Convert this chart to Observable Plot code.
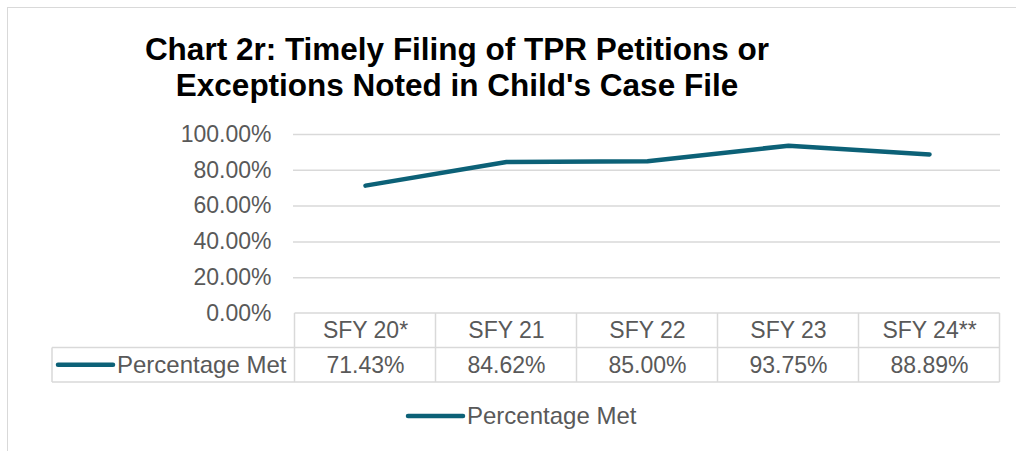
<!DOCTYPE html>
<html>
<head>
<meta charset="utf-8">
<script src="https://cdn.jsdelivr.net/npm/d3@7"></script>
<script src="https://cdn.jsdelivr.net/npm/@observablehq/plot@0.6"></script>
<style>
  html, body { margin: 0; padding: 0; background: #fff; overflow: hidden; }
  #wrap { position: relative; width: 1016px; height: 451px; font-family: "Liberation Sans", Arial, sans-serif; }
  #frame { position: absolute; left: 7px; top: 7px; width: 1100px; height: 600px; border: 1.5px solid #d9d9d9; box-sizing: border-box; }
  #title { position: absolute; left: 0; width: 914px; top: 31px; text-align: center; font-weight: bold; font-size: 31.5px; line-height: 36px; color: #000; }
  #chart { position: absolute; left: 0; top: 0; }
</style>
</head>
<body>
<div id="wrap">
  <div id="frame"></div>
  <div id="chart"></div>
  <div id="title">Chart 2r: Timely Filing of TPR Petitions or<br>Exceptions Noted in Child's Case File</div>
</div>
<script>
const categories = ["SFY 20*", "SFY 21", "SFY 22", "SFY 23", "SFY 24**"];
const values = [71.43, 84.62, 85.00, 93.75, 88.89];
const yTicks = [0, 20, 40, 60, 80, 100];
const seriesName = "Percentage Met";

const lineColor = "#0c6177";
const gridColor = "#d9d9d9";
const textColor = "#595959";
const fmt = d => d.toFixed(2) + "%";

const rows = values.map((v, i) => ({cat: categories[i], v}));

const plot = Plot.plot({
  width: 1016,
  height: 451,
  marginLeft: 293,
  marginRight: 16,
  marginTop: 134,
  marginBottom: 138,
  style: {fontFamily: "'Liberation Sans', Arial, sans-serif", fontSize: "23px", color: textColor, background: "transparent", overflow: "visible"},
  x: {type: "point", domain: categories, padding: 0.5, axis: null},
  y: {domain: [0, 100], axis: null},
  marks: [
    Plot.gridY(yTicks.filter(d => d > 0), {stroke: gridColor, strokeOpacity: 1, strokeWidth: 1.5}),
    Plot.axisY(yTicks, {tickSize: 0, tickPadding: 22, tickFormat: fmt, fontSize: 23, fill: textColor, label: null}),
    Plot.line(rows, {x: "cat", y: "v", stroke: lineColor, strokeWidth: 4.5, strokeLinecap: "round", strokeLinejoin: "round"}),
    Plot.text(categories, {x: d => d, frameAnchor: "bottom", dy: 17, fill: textColor, fontSize: 23, lineAnchor: "middle", textAnchor: "middle"}),
    Plot.text(rows, {x: "cat", frameAnchor: "bottom", dy: 52, text: d => fmt(d.v), fill: textColor, fontSize: 23, lineAnchor: "middle", textAnchor: "middle"})
  ]
});

document.getElementById("chart").appendChild(plot);

// data table borders and legends, positioned from the plot's scales
const xs = plot.scale("x");
const ys = plot.scale("y");
const step = xs.apply(categories[1]) - xs.apply(categories[0]);
const x0 = xs.apply(categories[0]) - step / 2;
const xEnd = xs.apply(categories[categories.length - 1]) + step / 2;
const yTop = ys.apply(0);
const rowH = 34.5;
const yMid = yTop + rowH;
const yBot = yTop + 2 * rowH;
const headerLeft = 52;

const svg = d3.select(plot);
const g = svg.append("g").attr("stroke", gridColor).attr("stroke-width", 1.5).attr("fill", "none");
g.append("line").attr("x1", x0).attr("x2", xEnd).attr("y1", yTop).attr("y2", yTop);
g.append("line").attr("x1", headerLeft).attr("x2", xEnd).attr("y1", yMid).attr("y2", yMid);
g.append("line").attr("x1", headerLeft).attr("x2", xEnd).attr("y1", yBot).attr("y2", yBot);
g.append("line").attr("x1", headerLeft).attr("x2", headerLeft).attr("y1", yMid).attr("y2", yBot);
for (let i = 0; i <= categories.length; i++) {
  const x = x0 + i * step;
  g.append("line").attr("x1", x).attr("x2", x).attr("y1", yTop).attr("y2", yBot);
}

function legendItem(x, y) {
  svg.append("line").attr("x1", x).attr("x2", x + 55).attr("y1", y).attr("y2", y)
    .attr("stroke", lineColor).attr("stroke-width", 4.5).attr("stroke-linecap", "round");
  svg.append("text").attr("x", x + 59).attr("y", y).attr("dy", "0.35em")
    .attr("text-anchor", "start")
    .attr("fill", textColor).attr("font-size", 24).text(seriesName);
}
legendItem(58, (yMid + yBot) / 2);
legendItem(408, 416);
</script>
</body>
</html>
